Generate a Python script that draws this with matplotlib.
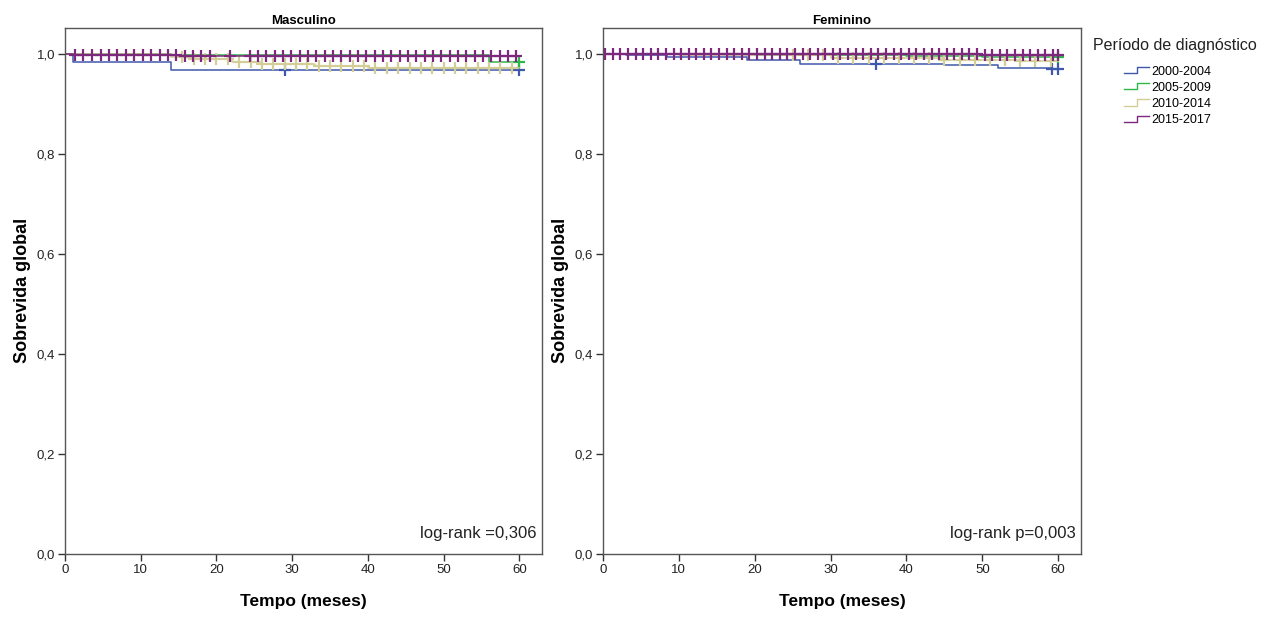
import numpy as np
import matplotlib.pyplot as plt
from matplotlib.lines import Line2D
from matplotlib.legend_handler import HandlerBase
from matplotlib.ticker import FuncFormatter

plt.rcParams['font.family'] = ['Liberation Sans', 'DejaVu Sans']

# periodos de diagnostico
periods = ['2000-2004', '2005-2009', '2010-2014', '2015-2017']
colors = ['#3E58AC', '#2EB848', '#D3CE97', '#7C287D']

# Masculino: tempos de evento e sobrevida apos cada evento
m_t_2000 = [1, 14]
m_s_2000 = [0.984, 0.967]
m_c_2000 = [29, 60]
m_t_2005 = [14, 56]
m_s_2005 = [0.997, 0.983]
m_c_2005 = [60]
m_t_2010 = [14, 17, 22, 26, 33, 40]
m_s_2010 = [0.994, 0.989, 0.984, 0.980, 0.975, 0.971]
m_c_2010 = [15.5, 17, 18.5, 20, 21.5, 23, 24.5, 26, 27.5, 29, 30.5, 32, 33.5, 35, 36.5,
            38, 39.5, 41, 42.5, 44, 45.5, 47, 48.5, 50, 51.5, 53, 54.5, 56, 57.5, 59]
m_t_2015 = [1, 15]
m_s_2015 = [0.997, 0.995]
m_c_2015 = [1.3, 2.4, 3.6, 4.7, 5.8, 6.9, 8, 9.1, 10.3, 11.4, 12.5, 13.6, 14.7, 15.8,
            16.9, 18, 19.2, 21.8, 24.4, 25.5, 26.6, 27.7, 28.8, 29.9, 31, 32.1, 33.2,
            34.3, 35.4, 36.5, 37.6, 38.7, 39.8, 40.9, 42, 43.1, 44.2, 45.3, 46.4, 47.5,
            48.6, 49.7, 50.8, 51.9, 53, 54.1, 55.2, 56.3, 57.4, 58.5, 59.6]

# Feminino
f_t_2000 = [3, 8.5, 19, 26, 45, 52, 59]
f_s_2000 = [0.997, 0.994, 0.987, 0.980, 0.977, 0.972, 0.969]
f_c_2000 = [36, 59.2, 60]
f_t_2005 = [20, 40, 50]
f_s_2005 = [0.997, 0.995, 0.993]
f_c_2005 = [60]
f_t_2010 = [10, 30, 45, 55]
f_s_2010 = [0.997, 0.992, 0.988, 0.985]
f_c_2010 = [25, 27, 29, 31, 33, 35, 37, 39, 41, 43, 45, 47, 49, 51, 53, 55, 57, 59]
f_t_2015 = [30, 50]
f_s_2015 = [0.999, 0.997]
f_c_2015 = [0.3, 1.3, 2.3, 3.3, 4.3, 5.3, 6.3, 7.3, 8.3, 9.3, 10.3, 11.3, 12.3, 13.3,
            14.3, 15.3, 16.3, 17.3, 18.3, 19.3, 20.3, 21.3, 22.3, 23.3, 24.3, 25.3, 26.3,
            27.3, 28.3, 29.3, 30.3, 31.3, 32.3, 33.3, 34.3, 35.3, 36.3, 37.3, 38.3, 39.3,
            40.3, 41.3, 42.3, 43.3, 44.3, 45.3, 46.3, 47.3, 48.3, 49.3, 50.3, 51.3, 52.3,
            53.3, 54.3, 55.3, 56.3, 57.3, 58.3, 59.3, 60]

masc = [(m_t_2000, m_s_2000, m_c_2000), (m_t_2005, m_s_2005, m_c_2005),
        (m_t_2010, m_s_2010, m_c_2010), (m_t_2015, m_s_2015, m_c_2015)]
fem = [(f_t_2000, f_s_2000, f_c_2000), (f_t_2005, f_s_2005, f_c_2005),
       (f_t_2010, f_s_2010, f_c_2010), (f_t_2015, f_s_2015, f_c_2015)]

t_end = 60


class StepHandler(HandlerBase):
    def create_artists(self, legend, orig_handle, xdescent, ydescent, width, height, fontsize, trans):
        x = np.array([0, 0.5, 0.5, 1.0]) * width - xdescent
        y = np.array([0.15, 0.15, 0.85, 0.85]) * height - ydescent
        ln = Line2D(x, y, color=orig_handle.get_color(), lw=1.0)
        ln.set_transform(trans)
        return [ln]


def km_plot(ax, groups, title, txt):
    for (tt, ss, cc), col in zip(groups, colors):
        x = np.concatenate([[0], tt, [t_end]])
        y = np.concatenate([[1.0], ss, [ss[-1]]])
        ax.step(x, y, where='post', color=col, lw=1.1)
        # marcas de censura
        idx = np.searchsorted(x, cc, side='right') - 1
        ax.plot(cc, y[idx], '+', color=col, ms=8, mew=1.6, linestyle='none')
    ax.set_xlim(0, 63)
    ax.set_ylim(0, 1.052)
    ax.set_xticks([0, 10, 20, 30, 40, 50, 60])
    ax.set_yticks([0, 0.2, 0.4, 0.6, 0.8, 1.0])
    ax.yaxis.set_major_formatter(FuncFormatter(lambda v, p: f'{v:.1f}'.replace('.', ',')))
    ax.tick_params(direction='out', length=5, width=1, labelsize=9.5, colors='#333333',
                   labelcolor='#222222', pad=2)
    for s in ax.spines.values():
        s.set_color('#555555')
        s.set_linewidth(1)
    ax.set_title(title, fontsize=9.5, fontweight='bold', pad=3)
    ax.set_xlabel('Tempo (meses)', fontsize=12.5, fontweight='bold', labelpad=13)
    ax.set_ylabel('Sobrevida global', fontsize=13, fontweight='bold', labelpad=4)
    ax.text(0.988, 0.025, txt, transform=ax.transAxes, ha='right', va='bottom',
            fontsize=12, color='#222222')


fig = plt.figure(figsize=(12.63, 6.19), dpi=100)
ax1 = fig.add_axes([0.0515, 0.105, 0.3777, 0.850])
ax2 = fig.add_axes([0.4774, 0.105, 0.3785, 0.850])

km_plot(ax1, masc, 'Masculino', 'log-rank =0,306')
km_plot(ax2, fem, 'Feminino', 'log-rank p=0,003')

# legenda
fig.text(0.8654, 0.927, 'Período de diagnóstico', fontsize=11.5, color='#222222',
         ha='left', va='center')
handles = [Line2D([], [], color=c) for c in colors]
leg = fig.legend(handles, periods, loc='upper left', bbox_to_anchor=(0.890, 0.894),
                 frameon=False, fontsize=9, handler_map={Line2D: StepHandler()},
                 handlelength=2.0, handletextpad=0.15, labelspacing=0.33,
                 borderpad=0, borderaxespad=0)

fig.savefig('out.png', dpi=100)
